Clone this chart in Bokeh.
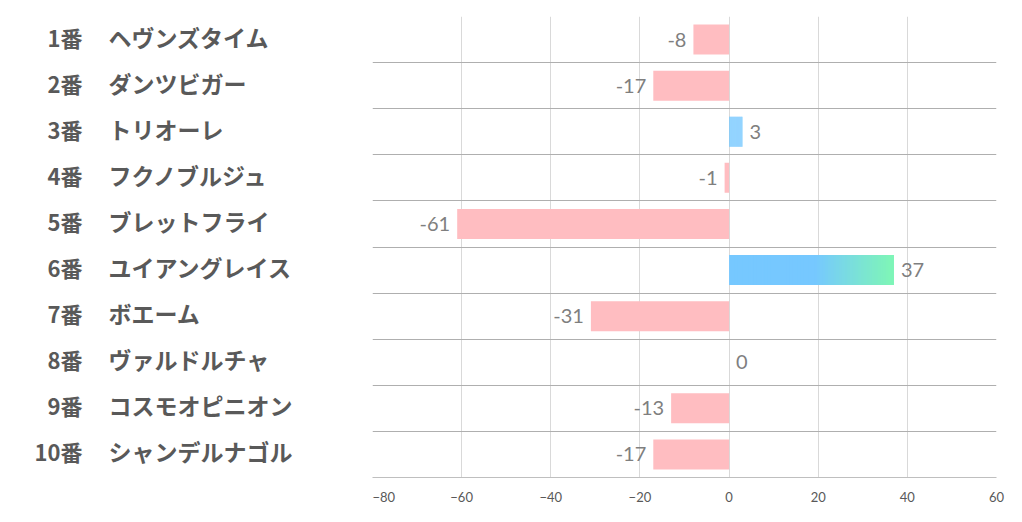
from bokeh.plotting import figure
from bokeh.layouts import row
from bokeh.models import ColumnDataSource, FixedTicker, Range1d
from bokeh.embed import file_html
from bokeh.resources import INLINE
from bokeh.core.properties import value

numbers = ["1番", "2番", "3番", "4番", "5番", "6番", "7番", "8番", "9番", "10番"]
names = ["ヘヴンズタイム", "ダンツビガー", "トリオーレ", "フクノブルジュ", "ブレットフライ",
         "ユイアングレイス", "ボエーム", "ヴァルドルチャ", "コスモオピニオン", "シャンデルナゴル"]
values = [-8, -17, 3, -1, -61, 37, -31, 0, -13, -17]
x_ticks = [-80, -60, -40, -20, 0, 20, 40, 60]

PINK = "#FFBDC1"
BLUE = (0x76, 0xC8, 0xFF)
GREEN = (0x7E, 0xF5, 0xB8)

n = len(values)
ys = [n - i - 0.5 for i in range(n)]
y_range = Range1d(0, n)

# left label figure
lp = figure(width=372, height=514, x_range=Range1d(0, 372), y_range=y_range,
            output_backend="svg", toolbar_location=None,
            min_border_left=0, min_border_right=0, min_border_top=16, min_border_bottom=37)
lp.axis.visible = False
lp.grid.visible = False
lp.outline_line_color = None
lsrc = ColumnDataSource(dict(num=numbers, name=names, y=ys))
lp.text(x=82, y="y", text="num", source=lsrc, text_align="right", text_baseline="middle",
        y_offset=-3, text_font=value("Noto Sans CJK JP"), text_font_style="bold",
        text_font_size="22px", text_color="#595959")
lp.text(x=108, y="y", text="name", source=lsrc, text_align="left", text_baseline="middle",
        y_offset=-3, text_font=value("Noto Sans CJK JP"), text_font_style="bold",
        text_font_size="23px", text_color="#595959")

# main chart
p = figure(width=640, height=514, x_range=Range1d(-80, 60), y_range=y_range,
           output_backend="svg", toolbar_location=None,
           min_border_left=0, min_border_right=16, min_border_top=16, min_border_bottom=37)
p.outline_line_color = None
p.yaxis.visible = False
p.ygrid.ticker = FixedTicker(ticks=list(range(n + 1)))
p.ygrid.grid_line_color = "#AFAFAF"
p.xgrid.ticker = FixedTicker(ticks=x_ticks)
p.xgrid.grid_line_color = "#D9D9D9"
p.xaxis.ticker = FixedTicker(ticks=x_ticks)
p.xaxis.major_tick_line_color = None
p.xaxis.minor_tick_line_color = None
p.xaxis.axis_line_color = "#BFBFBF"
p.xaxis.major_label_text_color = "#595959"
p.xaxis.major_label_text_font = "Lato"
p.xaxis.major_label_text_font_size = "13px"
p.xaxis.major_label_standoff = 8

H = 0.65
neg_y = [y for y, v in zip(ys, values) if v < 0]
neg_v = [v for v in values if v < 0]
p.hbar(y=neg_y, left=neg_v, right=0, height=H, fill_color=PINK, line_color=None)

# positive bars with gradient
maxpos = max(v for v in values if v > 0)
seg_y, seg_l, seg_r, seg_c = [], [], [], []
steps = 60
for y, v in zip(ys, values):
    if v <= 0:
        continue
    for k in range(steps):
        a = v * k / steps
        b = v * (k + 1) / steps
        t = ((a + b) / 2) / maxpos
        f = 0.0 if t < 0.52 else min(1.0, (t - 0.52) / 0.46)
        c = tuple(int(round(BLUE[j] + (GREEN[j] - BLUE[j]) * f)) for j in range(3))
        seg_y.append(y)
        seg_l.append(a)
        seg_r.append(b + (v / steps) * 0.3 if k < steps - 1 else b)
        seg_c.append("#%02x%02x%02x" % c)
p.hbar(y=seg_y, left=seg_l, right=seg_r, height=H, fill_color=seg_c, line_color=None)

# value labels
neg_lab = [str(v) for v in values if v < 0]
pos_y = [y for y, v in zip(ys, values) if v >= 0]
pos_v = [v for v in values if v >= 0]
p.text(x=neg_v, y=neg_y, text=neg_lab, text_align="right", text_baseline="middle",
       x_offset=-7, text_font=value("Lato"), text_font_size="20px", text_color="#7F7F7F")
p.text(x=pos_v, y=pos_y, text=[str(v) for v in pos_v], text_align="left", text_baseline="middle",
       x_offset=7, text_font=value("Lato"), text_font_size="20px", text_color="#7F7F7F")

layout = row(lp, p, spacing=0)
open("out.html", "w").write(file_html(layout, INLINE))
